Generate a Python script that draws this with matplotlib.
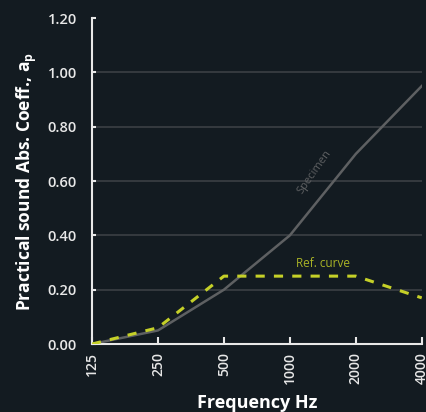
#!/usr/bin/env python
# Practical sound absorption coefficient vs frequency

import matplotlib.pyplot as plt

freqs = ['125', '250', '500', '1000', '2000', '4000']
specimen = [0.0, 0.05, 0.20, 0.40, 0.70, 0.95]
ref_curve = [0.0, 0.06, 0.25, 0.25, 0.25, 0.17]
yticks = [0.0, 0.2, 0.4, 0.6, 0.8, 1.0, 1.2]

bg = '#131b21'
plt.rcParams['font.family'] = ['Open Sans', 'DejaVu Sans']

fig = plt.figure(figsize=(4.26, 4.12), dpi=100, facecolor=bg)
ax = fig.add_axes([0.216, 0.165, 0.774, 0.791], facecolor=bg)

x = range(len(freqs))
for y in yticks[1:-1]:
    ax.axhline(y, color='#3b4044', lw=1.2, zorder=1)
ax.plot(x, specimen, color='#5e6062', lw=1.8, zorder=2)
ax.plot(x, ref_curve, color='#c5d028', lw=2.2, ls=(0, (3, 3)), zorder=3)

ax.text(3.38, 0.635, 'Specimen', color='#5e6062', fontsize=8, rotation=55,
        ha='center', va='center')
ax.text(3.5, 0.295, 'Ref. curve', color='#a9b326', fontsize=8.5,
        ha='center', va='center')

ax.set_xlim(0, len(freqs) - 1)
ax.set_ylim(0, 1.2)
ax.set_xticks(list(x))
ax.set_xticklabels(freqs, rotation=90)
ax.set_yticks(yticks)
ax.set_yticklabels(['%.2f' % v for v in yticks])

for s in ['top', 'right']:
    ax.spines[s].set_visible(False)
for s in ['left', 'bottom']:
    ax.spines[s].set_color('#e8e8e8')
    ax.spines[s].set_linewidth(1.5)
ax.tick_params(axis='x', direction='in', length=5, width=1.5, colors='#e8e8e8',
               labelsize=10, pad=6)
ax.tick_params(axis='y', direction='in', length=3, width=1.5, colors='#e8e8e8',
               labelsize=10.5, pad=11)
for lab in ax.get_xticklabels() + ax.get_yticklabels():
    lab.set_fontweight('semibold')

ax.set_xlabel('Frequency Hz', color='white', fontsize=13, fontweight='bold',
              labelpad=7)
ax.set_ylabel('Practical sound Abs. Coeff., a$_\\mathregular{p}$', color='white',
              fontsize=12.5, fontweight='bold', labelpad=6)

fig.savefig('out.png', dpi=100, facecolor=bg)
